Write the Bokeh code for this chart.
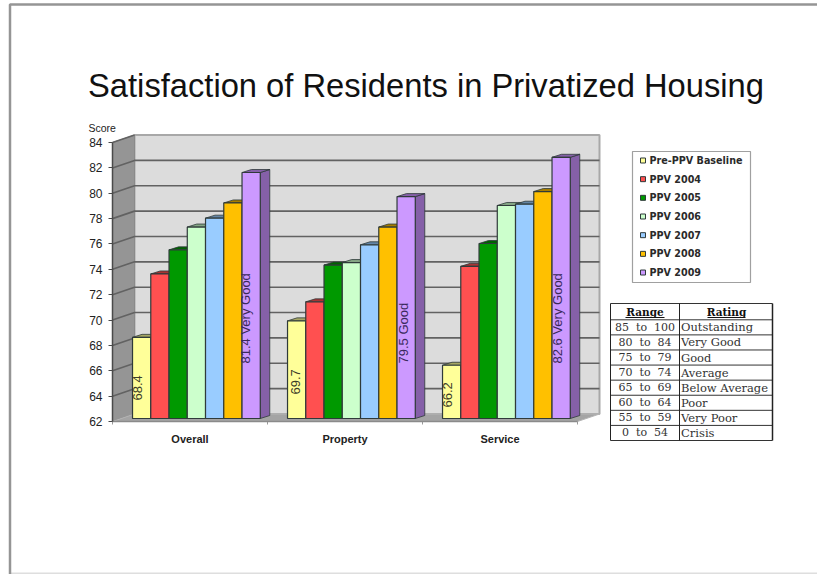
from bokeh.core.properties import value
from bokeh.embed import file_html
from bokeh.models import FixedTicker, LinearAxis, Range1d
from bokeh.plotting import figure
from bokeh.resources import INLINE
import numpy as np

# --- chart data ---
TITLE = "Satisfaction of Residents in Privatized Housing"
CATEGORIES = ["Overall", "Property", "Service"]
SERIES = ["Pre-PPV Baseline", "PPV 2004", "PPV 2005", "PPV 2006", "PPV 2007", "PPV 2008", "PPV 2009"]
PRE_PPV = [68.4, 69.7, 66.2]
PPV_2004 = [73.4, 71.2, 74.0]
PPV_2005 = [75.3, 74.1, 75.8]
PPV_2006 = [77.1, 74.3, 78.8]
PPV_2007 = [77.8, 75.7, 78.9]
PPV_2008 = [79.0, 77.1, 79.9]
PPV_2009 = [81.4, 79.5, 82.6]
SCORES = [PRE_PPV, PPV_2004, PPV_2005, PPV_2006, PPV_2007, PPV_2008, PPV_2009]
TOP_RATINGS = ["Very Good", "Good", "Very Good"]
RANGES = ["85\u00a0\u00a0to\u00a0\u00a0100", "80\u00a0\u00a0to\u00a0\u00a084", "75\u00a0\u00a0to\u00a0\u00a079",
          "70\u00a0\u00a0to\u00a0\u00a074", "65\u00a0\u00a0to\u00a0\u00a069", "60\u00a0\u00a0to\u00a0\u00a064",
          "55\u00a0\u00a0to\u00a0\u00a059", "0\u00a0\u00a0to\u00a0\u00a054"]
RATINGS = ["Outstanding", "Very Good", "Good", "Average", "Below Average", "Poor", "Very Poor", "Crisis"]
Y_TICKS = list(range(62, 85, 2))

# --- colours: front face, shaded face ---
FRONT = ["#ffff99", "#ff5050", "#009900", "#ccffcc", "#99ccff", "#ffc000", "#cc99ff"]
SHADE = ["#a6a663", "#a63434", "#006300", "#85a685", "#6385a6", "#a67d00", "#8560a8"]
EDGE = "#2f3a3a"
SERIF = value("DejaVu Serif")
SANS = value("Liberation Sans")

# --- page geometry, in pixels ---
W, H = 817, 574
X0, GROUP_PX = 189.5, 155.0        # centre of the first group, distance between groups
Y62, UNIT_PX = 421.0, 12.68        # pixel row of score 62, pixels per score point
WALL_DX, WALL_DY = 22.0, 7.5 / UNIT_PX  # how far the back wall is shifted
BAR_DX, BAR_DY = 6.4 / GROUP_PX, 3.0 / UNIT_PX  # bars stand slightly behind the axis plane
SIDE_DX, SIDE_DY = 9.5 / GROUP_PX, 3.0 / UNIT_PX  # visible bar depth
BAR_W = 18.25 / GROUP_PX


def unit_x(px):
    return (px - X0) / GROUP_PX


def score_y(py):
    return 62 + (Y62 - py) / UNIT_PX


p = figure(
    width=W, height=H, output_backend="svg", toolbar_location=None,
    x_range=Range1d(unit_x(0), unit_x(W)), y_range=Range1d(score_y(H), score_y(0)),
    min_border=0, outline_line_color=None, background_fill_color="white", border_fill_color="white",
    x_axis_type=None, y_axis_type=None,
)
p.grid.visible = False
p.extra_x_ranges["px"] = Range1d(0, W)
p.extra_y_ranges["px"] = Range1d(H, 0)

LEFT_PX, RIGHT_PX = X0 - GROUP_PX / 2, X0 + 2.5 * GROUP_PX
LO, HI = Y_TICKS[0], Y_TICKS[-1]

# slide frame
p.line([10, W], [573, 573], x_range_name="px", y_range_name="px", line_color="#dedede", line_width=2)
p.line([9.5, 9.5, W], [574, 4, 4], x_range_name="px", y_range_name="px", line_color="#959595", line_width=2.5)

# title
p.text([425.5], [85], text=[TITLE], x_range_name="px", y_range_name="px", text_font=SANS,
       text_font_size="32.7px", text_align="center", text_baseline="middle", text_color="#111111")

# walls and floor of the 3D box
p.patch([LEFT_PX + WALL_DX, RIGHT_PX + WALL_DX, RIGHT_PX + WALL_DX, LEFT_PX + WALL_DX],
        [LO + WALL_DY, LO + WALL_DY, HI + WALL_DY, HI + WALL_DY], x_range_name="px",
        fill_color="#dcdcdc", line_color="#a8a8a8", line_width=2)
p.patch([LEFT_PX, LEFT_PX + WALL_DX, LEFT_PX + WALL_DX, LEFT_PX], [LO, LO + WALL_DY, HI + WALL_DY, HI],
        x_range_name="px", fill_color="#959595", line_color="#8a8a8a", line_width=1)
p.patch([LEFT_PX, RIGHT_PX, RIGHT_PX + WALL_DX, LEFT_PX + WALL_DX], [LO, LO, LO + WALL_DY, LO + WALL_DY],
        x_range_name="px", fill_color="#a4a4a4", line_color="#b5b5b5", line_width=1)

# grid lines run along the back wall and down the side wall
grid = np.array(Y_TICKS[1:-1], dtype=float)
p.multi_line([[LEFT_PX, LEFT_PX + WALL_DX, RIGHT_PX + WALL_DX] for _ in grid],
             [[v, v + WALL_DY, v + WALL_DY] for v in grid], x_range_name="px",
             line_color="#626262", line_width=1.6)
p.line([LEFT_PX, LEFT_PX + WALL_DX], [HI, HI + WALL_DY], x_range_name="px", line_color="#626262", line_width=1.6)

# bars: shaded faces first, then the front faces on top
group = np.arange(len(CATEGORIES), dtype=float)
start = -len(SERIES) * BAR_W / 2 + BAR_DX
base = LO + BAR_DY
for i, vals in enumerate(SCORES):
    left = group + start + i * BAR_W
    right = left + BAR_W
    top = np.array(vals) + BAR_DY
    p.patches([[r, r + SIDE_DX, r + SIDE_DX, r] for r in right],
              [[base, base + SIDE_DY, t + SIDE_DY, t] for t in top],
              fill_color=SHADE[i], line_color=EDGE, line_width=0.8)
    p.patches([[l, r, r + SIDE_DX, l + SIDE_DX] for l, r in zip(left, right)],
              [[t, t, t + SIDE_DY, t + SIDE_DY] for t in top],
              fill_color=SHADE[i], line_color=EDGE, line_width=0.8)
for i, vals in enumerate(SCORES):
    left = group + start + i * BAR_W
    p.quad(left=left, right=left + BAR_W, bottom=base, top=np.array(vals) + BAR_DY,
           fill_color=FRONT[i], line_color=EDGE, line_width=1.2)

# rotated value labels inside the first and last bar of each group
for j in range(len(CATEGORIES)):
    x0 = group[j] + start
    p.text([x0 + (5, 8, 5)[j] / GROUP_PX], [score_y((400, 394, 407)[j])], text=[f"{PRE_PPV[j]}"],
           angle=np.pi / 2, text_font=SANS, text_font_size="13px", text_align="left",
           text_baseline="middle", text_color="#3c3c28")
    p.text([x0 + 6 * BAR_W + (3.5, 6, 5)[j] / GROUP_PX], [score_y(363)], text=[f"{PPV_2009[j]} {TOP_RATINGS[j]}"],
           angle=np.pi / 2, text_font=SANS, text_font_size="13px", text_align="left",
           text_baseline="middle", text_color="#3a2a5c")

# axes of the box
yaxis = LinearAxis(ticker=FixedTicker(ticks=Y_TICKS), fixed_location=-0.5, bounds=(LO, HI),
                   axis_line_color="#4a4a4a", axis_line_width=1.5, major_tick_line_color="#4a4a4a",
                   major_tick_out=4, major_tick_in=0, minor_tick_line_color=None,
                   major_label_standoff=6, major_label_text_font="Liberation Sans",
                   major_label_text_font_size="12px", major_label_text_color="#222222")
p.add_layout(yaxis, "left")
xaxis = LinearAxis(ticker=FixedTicker(ticks=[0, 1, 2]),
                   major_label_overrides={k: c for k, c in enumerate(CATEGORIES)},
                   fixed_location=LO, bounds=(-0.5, 2.5), axis_line_color="#8a8a8a", axis_line_width=1.5,
                   major_tick_line_color=None, minor_tick_line_color=None, major_label_standoff=5,
                   major_label_text_font="Liberation Sans", major_label_text_font_style="bold",
                   major_label_text_font_size="11px", major_label_text_color="#222222")
p.add_layout(xaxis, "below")
p.segment(np.arange(4) - 0.5, LO, np.arange(4) - 0.5, LO - 3 / UNIT_PX, line_color="#9a9a9a", line_width=1)
p.text([88], [127.5], text=["Score"], x_range_name="px", y_range_name="px", text_font=SANS,
       text_font_size="10.5px", text_baseline="middle", text_color="#222222")

# legend box
p.quad(left=632, right=750, top=151, bottom=282, x_range_name="px", y_range_name="px",
       fill_color="white", line_color="#a0a0a0", line_width=1.2)
rows = 160 + 18.67 * np.arange(len(SERIES))
p.rect(np.full(len(SERIES), 642.5), rows, width=5, height=5, x_range_name="px", y_range_name="px",
       fill_color=FRONT, line_color=EDGE, line_width=1)
p.text(np.full(len(SERIES), 649), rows, text=SERIES, x_range_name="px", y_range_name="px",
       text_font=value("DejaVu Sans"), text_font_style="bold", text_font_size="9.6px",
       text_baseline="middle", text_color="#2a2a2a")

# rating table
T_LEFT, T_MID, T_RIGHT, T_TOP, T_HEAD = 610, 679, 772, 303, 319.3
row_h = (440 - T_HEAD) / len(RANGES)
lines_y = [T_TOP, T_HEAD] + [T_HEAD + row_h * (k + 1) for k in range(len(RANGES))]
p.segment(T_LEFT, lines_y, T_RIGHT, lines_y, x_range_name="px", y_range_name="px",
          line_color="#333333", line_width=1)
p.segment([T_LEFT, T_MID, T_RIGHT], T_TOP, [T_LEFT, T_MID, T_RIGHT], lines_y[-1],
          x_range_name="px", y_range_name="px", line_color="#222222", line_width=[1, 1, 1.5])
centres = T_HEAD + row_h * (np.arange(len(RANGES)) + 0.5)
p.text([644.5, 726], [311, 311], text=["Range", "Rating"], x_range_name="px", y_range_name="px",
       text_font=SERIF, text_font_style="bold", text_font_size="10.5px", text_align="center",
       text_baseline="middle", text_color="#111111")
p.segment([625, 707], [317, 317], [664, 745], [317, 317], x_range_name="px", y_range_name="px",
          line_color="#111111", line_width=1)
p.text(np.full(len(RANGES), 644.5), centres, text=RANGES, x_range_name="px", y_range_name="px",
       text_font=SERIF, text_font_size="11px", text_align="center", text_baseline="middle",
       text_color="#333333")
p.text(np.full(len(RATINGS), 680.5), centres, text=RATINGS, x_range_name="px", y_range_name="px",
       text_font=SERIF, text_font_size="11.5px", text_baseline="middle", text_color="#333333")

open("out.html", "w").write(file_html(p, INLINE))
